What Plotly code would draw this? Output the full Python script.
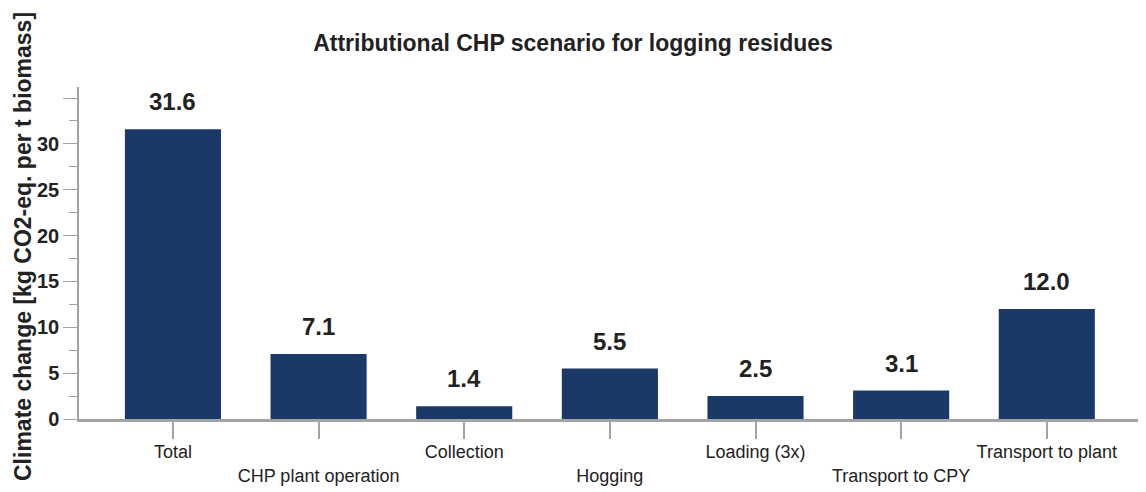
import plotly.graph_objects as go

categories = ["Total", "CHP plant operation", "Collection", "Hogging",
              "Loading (3x)", "Transport to CPY", "Transport to plant"]
values = [31.6, 7.1, 1.4, 5.5, 2.5, 3.1, 12.0]
y_tickvals = [0, 5, 10, 15, 20, 25, 30, 35]
y_ticktext = ["0", "5", "10", "15", "20", "25", "30", ""]

title_text = "Attributional CHP scenario for logging residues"
ytitle_text = "Climate change [kg CO2-eq. per t biomass]"

BAR = "#1B3966"
AX = "#A3A3A3"
TXT = "#222222"
FONT = "Liberation Sans, Arial, sans-serif"

# page has an 8px body margin; figure is sized/offset to compensate
W, H = 1138, 484
L, T, R, B = 71, 79, 6, 73
PW, PH = W - L - R, H - T - B

xpos = list(range(len(categories)))
ticktext = [c if i % 2 == 0 else "<br>" + c for i, c in enumerate(categories)]

fig = go.Figure()
fig.add_trace(go.Bar(x=xpos, y=values, marker=dict(color=BAR, line=dict(width=0)),
                     width=0.66, hoverinfo="skip"))

for xi, v in zip(xpos, values):
    fig.add_annotation(x=xi, y=v, text=f"<b>{v:.1f}</b>", showarrow=False,
                       yanchor="bottom", yshift=12,
                       font=dict(family=FONT, size=24, color=TXT))

fig.add_annotation(xref="paper", yref="paper", x=(15 - L) / PW, y=(H - B - 239) / PH,
                   text=f"<b>{ytitle_text}</b>", textangle=-90, showarrow=False,
                   xanchor="center", yanchor="middle",
                   font=dict(family=FONT, size=23, color=TXT))

fig.update_layout(
    width=W, height=H,
    margin=dict(l=L, r=R, t=T, b=B),
    paper_bgcolor="white", plot_bgcolor="white",
    showlegend=False,
    title=dict(text=f"<b>{title_text}</b>", x=565 / W, xref="container", xanchor="center",
               y=1 - 35 / H, yref="container", yanchor="middle",
               font=dict(family=FONT, size=23, color=TXT)),
    xaxis=dict(range=[-0.645, 6.64], tickvals=xpos, ticktext=ticktext,
               automargin=False,
               showline=True, linecolor=AX, linewidth=2.5,
               ticks="outside", ticklen=17, tickcolor=AX, tickwidth=1.5,
               ticklabelstandoff=-2,
               showgrid=False, zeroline=False,
               tickfont=dict(family=FONT, size=18, color=TXT)),
    yaxis=dict(range=[0, 36.2], tickvals=y_tickvals, ticktext=y_ticktext,
               automargin=False,
               showline=True, linecolor=AX, linewidth=1.5,
               ticks="outside", ticklen=14, tickcolor=AX, tickwidth=1.2,
               minor=dict(dtick=2.5, tick0=0, ticks="outside", ticklen=8,
                          tickcolor=AX, tickwidth=1.2, showgrid=False),
               showgrid=False, zeroline=False,
               tickfont=dict(family=FONT, size=20, color=TXT, weight="bold")),
)

fig.write_html("out.html")
